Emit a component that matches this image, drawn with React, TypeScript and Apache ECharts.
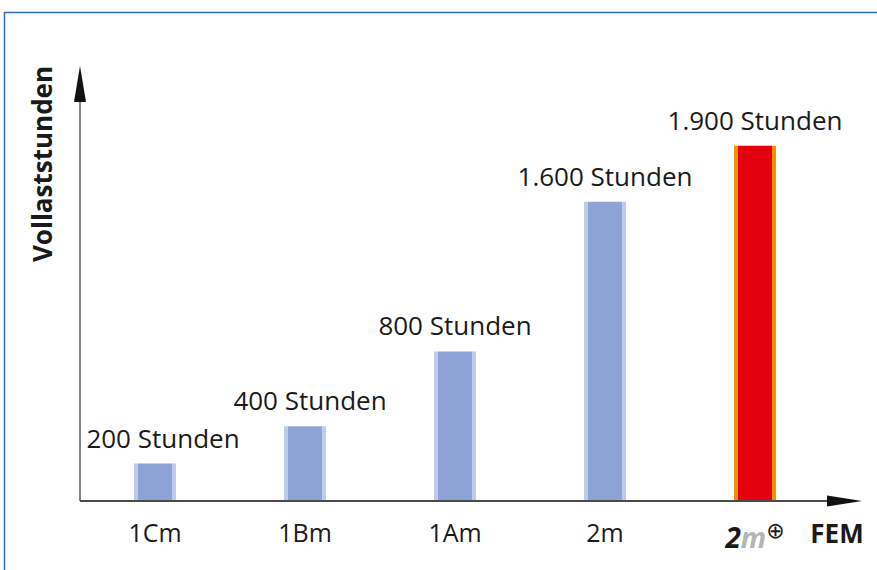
import React, { useEffect, useRef } from "react";
import * as echarts from "echarts";

const categories = ["1Cm", "1Bm", "1Am", "2m", "2m⊕"];
const values = [200, 400, 800, 1600, 1900];
const labelTexts = ["200 Stunden", "400 Stunden", "800 Stunden", "1.600 Stunden", "1.900 Stunden"];
const yAxisTitle = "Vollaststunden";
const xAxisTitle = "FEM";
const yMax = 2000;

const FONT = "'Open Sans', 'Noto Sans', sans-serif";

function edgeGradient(edge: string, core: string, f: number) {
  return new echarts.graphic.LinearGradient(0, 0, 1, 0, [
    { offset: 0, color: edge },
    { offset: f, color: edge },
    { offset: f, color: core },
    { offset: 1 - f, color: core },
    { offset: 1 - f, color: edge },
    { offset: 1, color: edge },
  ]);
}

export default function App() {
  const ref = useRef<HTMLDivElement>(null);
  useEffect(() => {
    if (!ref.current) return;
    const chart = echarts.init(ref.current, undefined, { renderer: "svg" });
    const blue = edgeGradient("#BDCCEC", "#8DA3D6", 0.095);
    const red = edgeGradient("#F39200", "#E3000F", 0.095);
    const labelShift = (i: number) => (i === 0 ? 8 : i === 1 ? 5 : 0);
    const option: any = {
      animation: false,
      backgroundColor: "#ffffff",
      textStyle: { fontFamily: FONT },
      grid: { left: 80, right: 47, top: 127, bottom: 69, containLabel: false },
      xAxis: {
        type: "category",
        data: categories,
        axisLine: { show: false },
        axisTick: { show: false },
        axisLabel: {
          interval: 0,
          fontSize: 25,
          color: "#1a1a1a",
          fontFamily: FONT,
          margin: 18,
          formatter: (v: string) => (v === "2m⊕" ? "{a|2}{b|m}{c|⊕}" : v),
          rich: {
            a: { fontSize: 28, fontWeight: "bold", fontStyle: "italic", color: "#1a1a1a", fontFamily: FONT },
            b: { fontSize: 28, fontWeight: "bold", fontStyle: "italic", color: "#B5B5B5", fontFamily: FONT },
            c: { fontSize: 22, color: "#1a1a1a", fontFamily: "'DejaVu Sans', sans-serif", padding: [0, 0, 14, 0] },
          },
        },
      },
      yAxis: {
        type: "value",
        min: 0,
        max: yMax,
        axisLine: { show: false },
        axisTick: { show: false },
        axisLabel: { show: false },
        splitLine: { show: false },
      },
      series: [
        {
          type: "bar",
          barWidth: 42,
          data: values.map((v, i) => ({
            value: v,
            itemStyle: { color: i === values.length - 1 ? red : blue },
            label: { offset: [labelShift(i), 0] },
          })),
          label: {
            show: true,
            position: "top",
            distance: 13,
            fontSize: 26,
            color: "#1a1a1a",
            fontFamily: FONT,
            formatter: (p: any) => labelTexts[p.dataIndex],
          },
        },
      ],
      graphic: [
        {
          type: "polyline",
          z: 100,
          shape: { points: [[4.5, 570], [4.5, 12.5], [877, 12.5]] },
          style: { stroke: "#2E6DB4", lineWidth: 1.5, fill: null },
        },
        {
          type: "line",
          z: 100,
          shape: { x1: 80, y1: 501, x2: 80, y2: 100 },
          style: { stroke: "#5a5a5a", lineWidth: 1.5 },
        },
        {
          type: "polygon",
          z: 100,
          shape: { points: [[74, 102], [86, 102], [80, 66]] },
          style: { fill: "#111111" },
        },
        {
          type: "line",
          z: 100,
          shape: { x1: 80, y1: 501, x2: 830, y2: 501 },
          style: { stroke: "#4a4a4a", lineWidth: 2 },
        },
        {
          type: "polygon",
          z: 100,
          shape: { points: [[827, 495.5], [827, 506.5], [862, 501]] },
          style: { fill: "#111111" },
        },
        {
          type: "text",
          z: 100,
          x: 42,
          y: 164,
          rotation: Math.PI / 2,
          style: {
            text: yAxisTitle,
            fontSize: 26,
            fontWeight: "bold",
            fontFamily: FONT,
            fill: "#1a1a1a",
            textAlign: "center",
            textVerticalAlign: "middle",
          },
        },
        {
          type: "text",
          z: 100,
          x: 837,
          y: 533,
          style: {
            text: xAxisTitle,
            fontSize: 26,
            fontWeight: "bold",
            fontFamily: FONT,
            fill: "#1a1a1a",
            textAlign: "center",
            textVerticalAlign: "middle",
          },
        },
      ],
    };
    chart.setOption(option);
    return () => chart.dispose();
  }, []);
  return (
    <div
      ref={ref}
      style={{ position: "absolute", left: 0, top: 0, width: 877, height: 570 }}
    />
  );
}
